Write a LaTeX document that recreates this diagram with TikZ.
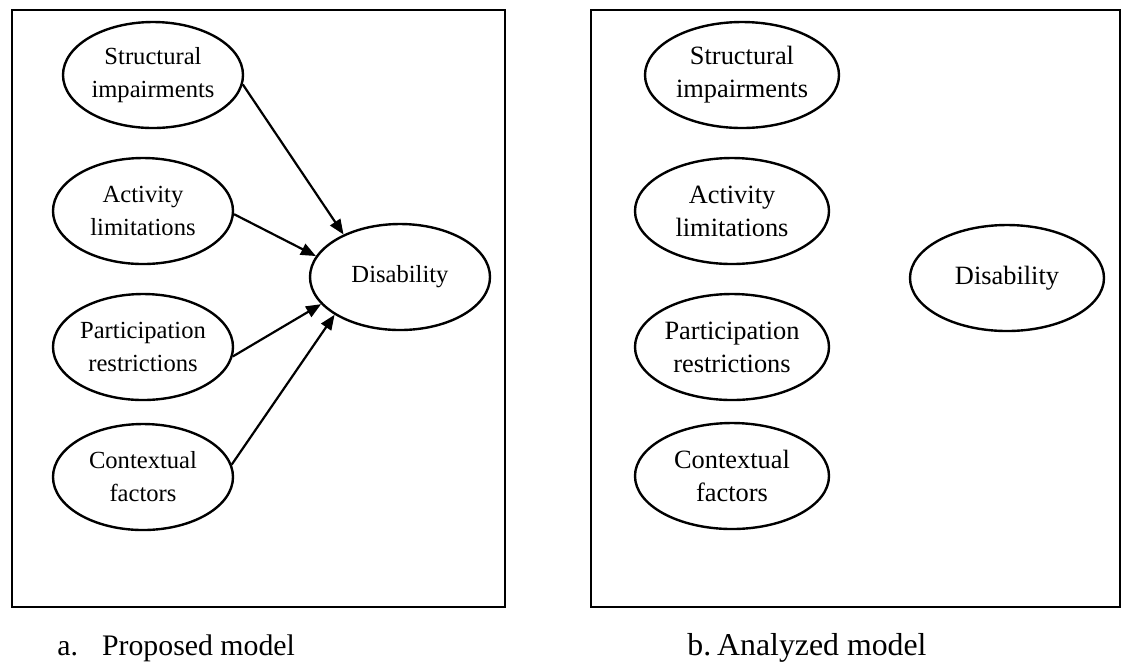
\documentclass[tikz,border=0pt]{standalone}
\usepackage{fontspec}
\setmainfont{Liberation Serif}
\usetikzlibrary{arrows.meta,shapes.geometric}
\begin{document}
\begin{tikzpicture}[x=0.5pt,y=-0.5pt,
  var/.style={draw, ellipse, line width=1.2pt, inner sep=0pt, align=center,
    font=\fontsize{12.3pt}{16.5pt}\selectfont},
  varl/.style={var, minimum width=90pt, minimum height=53pt},
  varr/.style={var, minimum width=97pt, minimum height=53pt,
    font=\fontsize{13.2pt}{16.5pt}\selectfont},
  frame/.style={draw, line width=1.4pt},
  link/.style={line width=1.1pt, -{Triangle[length=7.5pt,width=6pt]}},
  captext/.style={anchor=base west, inner sep=0pt}
]
\useasboundingbox (0,0) rectangle (1123,661);
% panel a
\draw[frame] (12,10) rectangle (505,607);
\node[varl] (s1) at (153,75) {Structural\\impairments};
\node[varl] (a1) at (143,211) {Activity\\limitations};
\node[varl] (p1) at (143,347) {Participation\\restrictions};
\node[varl] (c1) at (143,477) {Contextual\\factors};
\node[varl] (d1) at (400,277) {Disability};
\draw[link] (s1.-6) -- (d1.143);
\draw[link] (a1.-2) -- (d1.166);
\draw[link] (p1.-6) -- (d1.199);
\draw[link] (c1.8) -- (d1.210);
\node[captext, font=\fontsize{14.9pt}{18pt}\selectfont] (ca) at (57,655) {a.\hspace{12pt}Proposed model};
% panel b
\draw[frame] (591,10) rectangle (1120,607);
\node[varr] (s2) at (742,75) {Structural\\impairments};
\node[varr] (a2) at (732,211) {Activity\\limitations};
\node[varr] (p2) at (732,347) {Participation\\restrictions};
\node[varr] (c2) at (732,476) {Contextual\\factors};
\node[varr] (d2) at (1007,278) {Disability};
\node[captext, font=\fontsize{15.9pt}{18pt}\selectfont] (cb) at (687,655) {b.\hspace{3pt}Analyzed model};
\end{tikzpicture}
\end{document}
